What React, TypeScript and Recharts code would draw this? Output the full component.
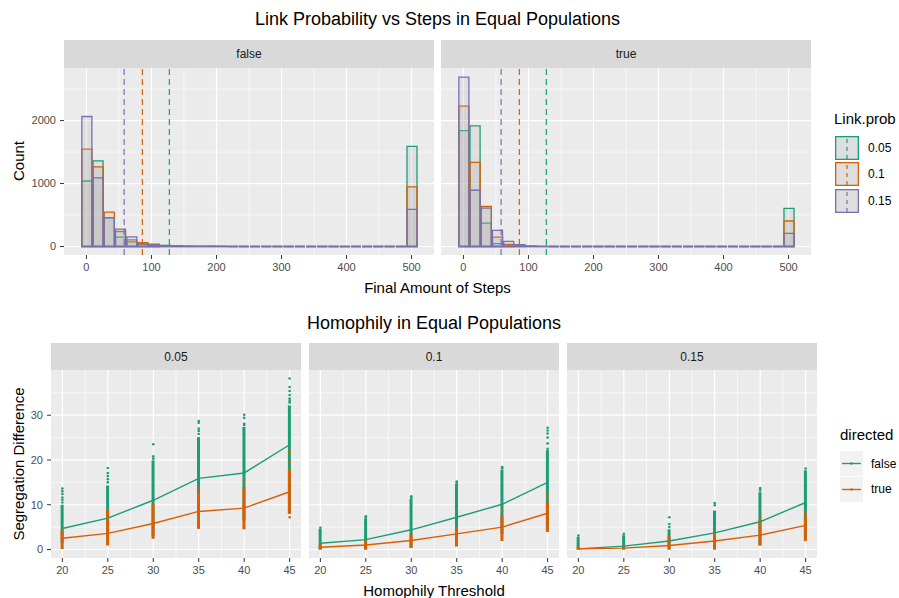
import React from "react";
import {
  ComposedChart,
  Bar,
  Line,
  Scatter,
  XAxis,
  YAxis,
  CartesianGrid,
  ReferenceLine,
} from "recharts";

const FONT = '"Liberation Sans", Arial, Helvetica, sans-serif';
const GREEN = "#1B9E77";
const ORANGE = "#D95F02";
const PURPLE = "#7570B3";
const PANEL_BG = "#EBEBEB";
const STRIP_BG = "#D9D9D9";
const TICK_COLOR = "#4D4D4D";
const HIST_FILL = "#A8A8A8";

// ---------- top plot: final amount of steps ----------
const binCenters = [
  0, 17.2, 34.5, 51.7, 69, 86.2, 103.4, 120.7, 137.9, 155.2, 172.4, 189.7,
  206.9, 224.1, 241.4, 258.6, 275.9, 293.1, 310.3, 327.6, 344.8, 362.1, 379.3,
  396.6, 413.8, 431, 448.3, 465.5, 482.8, 500,
];
const linkProbs = ["0.05", "0.1", "0.15"];
const linkColors = [GREEN, ORANGE, PURPLE];

const falseCounts005 = [1040, 1360, 455, 148, 74, 34, 28, 18, 10, 6, 4, 3, 2, 1, 0, 0, 0, 0, 0, 0, 0, 0, 0, 0, 0, 0, 0, 0, 0, 1590];
const falseCounts010 = [1545, 1265, 545, 238, 106, 63, 36, 14, 8, 5, 3, 2, 1, 0, 0, 0, 0, 0, 0, 0, 0, 0, 0, 0, 0, 0, 0, 0, 0, 948];
const falseCounts015 = [2065, 1090, 460, 275, 153, 42, 26, 12, 6, 3, 2, 6, 5, 0, 0, 0, 0, 0, 0, 0, 0, 0, 0, 0, 0, 0, 0, 0, 0, 590];
const trueCounts005 = [1840, 1915, 370, 45, 22, 8, 3, 1, 0, 0, 0, 0, 0, 0, 0, 0, 0, 0, 0, 0, 0, 0, 0, 0, 0, 0, 0, 0, 0, 605];
const trueCounts010 = [2228, 1335, 635, 150, 35, 14, 5, 1, 0, 0, 0, 0, 0, 0, 0, 0, 0, 0, 0, 0, 0, 0, 0, 0, 0, 0, 0, 0, 0, 405];
const trueCounts015 = [2690, 893, 611, 256, 80, 30, 8, 2, 0, 0, 0, 0, 0, 0, 0, 0, 0, 0, 0, 0, 0, 0, 0, 0, 0, 0, 0, 0, 0, 210];
const meanSteps = [127.5, 86, 58];

const stepTicks = [0, 100, 200, 300, 400, 500];
const stepMinor = [50, 150, 250, 350, 450];
const countTicks = [0, 1000, 2000];
const countMinor = [500, 1500, 2500];

// ---------- bottom plot: homophily ----------
const thresholds = [20, 25, 30, 35, 40, 45];
const facetNames = ["0.05", "0.1", "0.15"];

const meanFalse = [
  [4.7, 7.0, 11.0, 15.9, 17.1, 23.4],
  [1.4, 2.2, 4.4, 7.2, 10.1, 15.0],
  [0.15, 0.75, 1.9, 3.7, 6.2, 10.5],
];
const meanTrue = [
  [2.5, 3.6, 5.8, 8.5, 9.25, 12.9],
  [0.5, 1.0, 2.0, 3.5, 5.0, 8.1],
  [0.15, 0.3, 0.9, 1.9, 3.2, 5.4],
];
// dense part of each column of points [low, high]
const spreadFalse = [
  [[1.5, 10.0], [1.5, 14.3], [3, 19.9], [5.5, 25.1], [6.5, 27.4], [8, 32.2]],
  [[0, 4.6], [0, 6.9], [0.4, 11.3], [0.7, 14.7], [3.5, 17.8], [4.5, 22.2]],
  [[0, 2.8], [0, 3.2], [0, 4.5], [0, 8.7], [0.9, 12.8], [2.5, 17.7]],
];
const spreadTrue = [
  [[0.1, 4.3], [0.9, 8.9], [2.4, 10.2], [4.6, 12.8], [4.5, 13.9], [8.0, 18.0]],
  [[0, 1.2], [0, 2.0], [0.4, 3.5], [0.7, 5.0], [1.9, 7.6], [3.9, 10.6]],
  [[0, 0.7], [0, 1.0], [0, 3.0], [0, 4.0], [0.9, 6.5], [1.9, 7.6]],
];
// sparse points above the columns [threshold, value]
const outliersFalse = [
  [[20, 13.6], [20, 13.0], [20, 12.4], [20, 11.6], [20, 11.1], [20, 10.5], [25, 18.2], [25, 17.1], [25, 16.4], [25, 15.7], [25, 15.0], [30, 23.5], [30, 20.8], [30, 20.3], [35, 28.7], [35, 28.3], [35, 27.0], [35, 26.5], [35, 25.8], [40, 30.1], [40, 29.4], [40, 28.1], [40, 27.8], [45, 38.2], [45, 36.3], [45, 35.4], [45, 34.5], [45, 33.7], [45, 33.2], [45, 32.8]],
  [[20, 4.85], [25, 7.4], [25, 7.1], [30, 11.9], [30, 11.5], [35, 15.2], [35, 14.9], [40, 18.4], [40, 18.1], [45, 27.2], [45, 26.6], [45, 25.9], [45, 25.0], [45, 23.7], [45, 22.5]],
  [[20, 3.1], [25, 3.5], [30, 7.2], [30, 5.7], [30, 5.0], [35, 10.4], [35, 9.9], [40, 13.7], [40, 13.2], [45, 18.1]],
];
const outliersTrue = [
  [[35, 13.5], [40, 15.5], [45, 22.0], [45, 21.5], [45, 19.5], [45, 7.2]],
  [[40, 8.6], [45, 12.5], [45, 11.7]],
  [[40, 7.2], [45, 8.3]],
];

const segTicks = [0, 10, 20, 30];
const segMinor = [5, 15, 25, 35];
const thrMinor = [22.5, 27.5, 32.5, 37.5, 42.5];

// ---------- layout ----------
const TOP_Y = 68;
const TOP_H = 187;
const TOP_W = 370;
const TOP_LEFTS = [64, 441];
const TOP_X_DOMAIN: [number, number] = [-34.5, 534.5];
const TOP_Y_DOMAIN: [number, number] = [-135, 2835];
const BIN_WIDTH = 17.24;
const HIST_BAR_PX = (BIN_WIDTH * TOP_W) / (TOP_X_DOMAIN[1] - TOP_X_DOMAIN[0]);

const BOT_Y = 370;
const BOT_H = 188;
const BOT_W = 250;
const BOT_LEFTS = [51, 309, 567];
const BOT_X_DOMAIN: [number, number] = [18.75, 46.25];
const BOT_Y_DOMAIN: [number, number] = [-1.9, 40.1];

const tickText = { fill: TICK_COLOR, fontSize: 11, fontFamily: FONT };

function Txt({ x, y, size, children, color = "#000", rotate = false, anchor = "middle" }: any) {
  const tx = anchor === "start" ? "0" : "-50%";
  return (
    <div
      style={{
        position: "absolute",
        left: x,
        top: y,
        fontSize: size,
        color,
        lineHeight: 1,
        whiteSpace: "nowrap",
        transform: `translate(${tx}, -50%)${rotate ? " rotate(-90deg)" : ""}`,
      }}
    >
      {children}
    </div>
  );
}

function Strip({ left, top, width, height, label }: any) {
  return (
    <div
      style={{
        position: "absolute",
        left,
        top,
        width,
        height,
        background: STRIP_BG,
        display: "flex",
        alignItems: "center",
        justifyContent: "center",
        fontSize: 12,
        color: "#1A1A1A",
      }}
    >
      {label}
    </div>
  );
}

function histShape(color: string) {
  return (props: any) => {
    const { x, y, width, height } = props;
    if (![x, y, width, height].every((v) => Number.isFinite(v))) return <g />;
    return (
      <path
        d={`M${x},${y + height}V${y}H${x + width}V${y + height}Z`}
        fill={HIST_FILL}
        fillOpacity={0.2}
        stroke={color}
        strokeWidth={1.3}
      />
    );
  };
}

function HistFacet({ left, counts, showY }: any) {
  const yW = showY ? 64 : 0;
  const rows = binCenters.map((x, i) => ({
    x,
    g: counts[0][i],
    o: counts[1][i],
    p: counts[2][i],
  }));
  const ids = ["g", "o", "p"];
  return (
    <div style={{ position: "absolute", left: left - yW, top: TOP_Y }}>
      <ComposedChart
        width={TOP_W + yW}
        height={TOP_H + 26}
        data={rows}
        margin={{ top: 0, right: 0, bottom: 0, left: 0 }}
      >
        <CartesianGrid
          fill={PANEL_BG}
          fillOpacity={1}
          stroke="#fff"
          strokeWidth={0.6}
          horizontalValues={countMinor}
          verticalValues={stepMinor}
        />
        <CartesianGrid
          stroke="#fff"
          strokeWidth={1.2}
          horizontalValues={countTicks}
          verticalValues={stepTicks}
        />
        <XAxis
          dataKey="x"
          type="number"
          domain={TOP_X_DOMAIN}
          ticks={stepTicks}
          interval={0}
          allowDataOverflow
          axisLine={false}
          tickLine={{ stroke: "#333" }}
          tickSize={4}
          tickMargin={4}
          tick={tickText}
          height={26}
        />
        <XAxis xAxisId="o" dataKey="x" type="number" domain={TOP_X_DOMAIN} allowDataOverflow hide />
        <XAxis xAxisId="p" dataKey="x" type="number" domain={TOP_X_DOMAIN} allowDataOverflow hide />
        <YAxis
          type="number"
          domain={TOP_Y_DOMAIN}
          ticks={countTicks}
          interval={0}
          allowDataOverflow
          hide={!showY}
          width={yW}
          axisLine={false}
          tickLine={{ stroke: "#333" }}
          tickSize={4}
          tickMargin={4}
          tick={tickText}
        />
        {ids.map((id, i) => (
          <Bar
            key={id}
            dataKey={id}
            xAxisId={i === 0 ? 0 : id}
            barSize={HIST_BAR_PX}
            shape={histShape(linkColors[i])}
            isAnimationActive={false}
          />
        ))}
        {meanSteps.map((m, i) => (
          <ReferenceLine
            key={i}
            x={m}
            stroke={linkColors[i]}
            strokeWidth={1.2}
            strokeDasharray="6 4"
          />
        ))}
      </ComposedChart>
    </div>
  );
}

const dot = (color: string) => (p: any) =>
  Number.isFinite(p.cx) && Number.isFinite(p.cy) ? (
    <circle cx={p.cx} cy={p.cy} r={1.3} fill={color} />
  ) : (
    <g />
  );

function SegFacet({ idx, showY }: any) {
  const yW = showY ? 51 : 0;
  const left = BOT_LEFTS[idx];
  const rows = thresholds.map((t, i) => ({
    t,
    gM: meanFalse[idx][i],
    oM: meanTrue[idx][i],
    gR: spreadFalse[idx][i],
    oR: spreadTrue[idx][i],
  }));
  const gPts = outliersFalse[idx].map(([t, v]) => ({ t, v }));
  const oPts = outliersTrue[idx].map(([t, v]) => ({ t, v }));
  return (
    <div style={{ position: "absolute", left: left - yW, top: BOT_Y }}>
      <ComposedChart
        width={BOT_W + yW}
        height={BOT_H + 26}
        data={rows}
        margin={{ top: 0, right: 0, bottom: 0, left: 0 }}
      >
        <CartesianGrid
          fill={PANEL_BG}
          fillOpacity={1}
          stroke="#fff"
          strokeWidth={0.6}
          horizontalValues={segMinor}
          verticalValues={thrMinor}
        />
        <CartesianGrid
          stroke="#fff"
          strokeWidth={1.2}
          horizontalValues={segTicks}
          verticalValues={thresholds}
        />
        <XAxis
          dataKey="t"
          type="number"
          domain={BOT_X_DOMAIN}
          ticks={thresholds}
          interval={0}
          allowDataOverflow
          axisLine={false}
          tickLine={{ stroke: "#333" }}
          tickSize={4}
          tickMargin={4}
          tick={tickText}
          height={26}
        />
        <XAxis xAxisId="b" dataKey="t" type="number" domain={BOT_X_DOMAIN} allowDataOverflow hide />
        <YAxis
          dataKey="v"
          type="number"
          domain={BOT_Y_DOMAIN}
          ticks={segTicks}
          interval={0}
          allowDataOverflow
          hide={!showY}
          width={yW}
          axisLine={false}
          tickLine={{ stroke: "#333" }}
          tickSize={4}
          tickMargin={4}
          tick={tickText}
        />
        <Bar dataKey="gR" barSize={3} fill={GREEN} isAnimationActive={false} />
        <Scatter data={gPts} dataKey="v" fill={GREEN} shape={dot(GREEN)} isAnimationActive={false} />
        <Bar dataKey="oR" xAxisId="b" barSize={3} fill={ORANGE} isAnimationActive={false} />
        <Scatter data={oPts} dataKey="v" fill={ORANGE} shape={dot(ORANGE)} isAnimationActive={false} />
        <Line dataKey="gM" type="linear" stroke={GREEN} strokeWidth={1.4} dot={false} isAnimationActive={false} />
        <Line dataKey="oM" type="linear" stroke={ORANGE} strokeWidth={1.4} dot={false} isAnimationActive={false} />
      </ComposedChart>
    </div>
  );
}

export default function App() {
  return (
    <div
      style={{
        position: "absolute",
        left: 0,
        top: 0,
        width: 899,
        height: 598,
        background: "#fff",
        fontFamily: FONT,
        overflow: "hidden",
      }}
    >
      {/* top figure */}
      <Txt x={437.5} y={19} size={18}>
        Link Probability vs Steps in Equal Populations
      </Txt>
      <Strip left={TOP_LEFTS[0]} top={40} width={TOP_W} height={28} label="false" />
      <Strip left={TOP_LEFTS[1]} top={40} width={TOP_W} height={28} label="true" />
      <HistFacet left={TOP_LEFTS[0]} showY counts={[falseCounts005, falseCounts010, falseCounts015]} />
      <HistFacet left={TOP_LEFTS[1]} showY={false} counts={[trueCounts005, trueCounts010, trueCounts015]} />
      <Txt x={18} y={161} size={15} rotate>
        Count
      </Txt>
      <Txt x={437.5} y={287} size={15}>
        Final Amount of Steps
      </Txt>
      <Txt x={834} y={118} size={15} anchor="start">
        Link.prob
      </Txt>
      {linkProbs.map((lab, i) => {
        const top = 135.5 + i * 26.5;
        return (
          <React.Fragment key={lab}>
            <svg style={{ position: "absolute", left: 835, top }} width={24} height={24}>
              <rect x={0.65} y={0.65} width={22.7} height={22.7} fill="#DEDEDE" stroke={linkColors[i]} strokeWidth={1.3} />
              <line x1={12} x2={12} y1={1} y2={23} stroke={linkColors[i]} strokeWidth={1.2} strokeDasharray="4 4" strokeDashoffset={-2} />
            </svg>
            <Txt x={868} y={top + 12} size={12} anchor="start">
              {lab}
            </Txt>
          </React.Fragment>
        );
      })}

      {/* bottom figure */}
      <Txt x={434} y={323} size={18}>
        Homophily in Equal Populations
      </Txt>
      {facetNames.map((n, i) => (
        <Strip key={n} left={BOT_LEFTS[i]} top={343} width={BOT_W} height={27} label={n} />
      ))}
      {facetNames.map((n, i) => (
        <SegFacet key={n} idx={i} showY={i === 0} />
      ))}
      <Txt x={18} y={464} size={15} rotate>
        Segregation Difference
      </Txt>
      <Txt x={434} y={590} size={15}>
        Homophily Threshold
      </Txt>
      <Txt x={840} y={434} size={15} anchor="start">
        directed
      </Txt>
      {["false", "true"].map((lab, i) => {
        const top = 451 + i * 25.5;
        const c = i === 0 ? GREEN : ORANGE;
        return (
          <React.Fragment key={lab}>
            <svg style={{ position: "absolute", left: 840, top }} width={23} height={25}>
              <rect x={0} y={0} width={23} height={25} fill="#F2F2F2" />
              <line x1={2} x2={21} y1={12.5} y2={12.5} stroke={c} strokeWidth={1.4} />
              <circle cx={11.5} cy={12.5} r={1.2} fill={c} />
            </svg>
            <Txt x={871} y={top + 12.5} size={12} anchor="start">
              {lab}
            </Txt>
          </React.Fragment>
        );
      })}
    </div>
  );
}
